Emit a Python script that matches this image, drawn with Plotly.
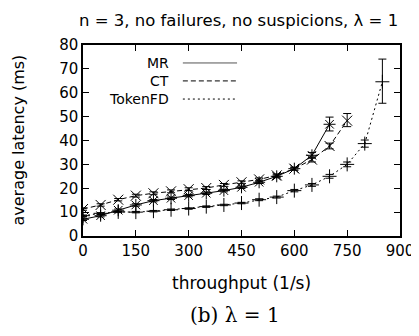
import plotly.graph_objects as go

# ---- data ----
mr_x = [0, 50, 100, 150, 200, 250, 300, 350, 400, 450, 500, 550, 600, 650, 700]
mr_y = [7.0, 8.5, 10.8, 13.0, 14.8, 15.8, 16.9, 17.9, 19.0, 20.4, 22.5, 25.0, 28.2, 33.8, 46.8]
mr_err_up = [0.5, 0.5, 0.5, 0.5, 0.5, 0.5, 0.5, 0.5, 0.5, 0.5, 0.5, 0.6, 0.6, 1.2, 3.0]
mr_err_dn = [0.5, 0.5, 0.5, 0.5, 0.5, 0.5, 0.5, 0.5, 0.5, 0.5, 0.5, 0.6, 0.6, 1.2, 2.8]

ct_x = [0, 50, 100, 150, 200, 250, 300, 350, 400, 450, 500, 550, 600, 650, 700, 750]
ct_y = [11.3, 13.0, 15.2, 16.9, 17.9, 18.7, 19.6, 20.1, 21.4, 22.5, 23.7, 25.4, 28.2, 32.0, 37.7, 48.3]
ct_err_up = [0.5, 0.5, 0.5, 0.6, 0.6, 0.6, 0.6, 0.6, 0.6, 0.6, 0.6, 0.6, 0.6, 1.0, 1.2, 3.0]
ct_err_dn = [0.5, 0.5, 0.5, 0.6, 0.6, 0.6, 0.6, 0.6, 0.6, 0.6, 0.6, 0.6, 0.6, 1.0, 1.2, 2.5]

tk_x = [0, 50, 100, 150, 200, 250, 300, 350, 400, 450, 500, 550, 600, 650, 700, 750, 800, 850]
tk_y = [8.5, 9.5, 10.1, 10.0, 10.4, 11.0, 11.5, 12.3, 13.0, 13.8, 15.2, 16.3, 19.0, 21.4, 25.0, 30.0, 38.7, 64.6]
tk_err_up = [0.3, 0.3, 0.3, 0.3, 0.3, 0.3, 0.3, 0.3, 0.3, 0.3, 0.4, 0.4, 0.5, 0.6, 0.8, 1.0, 1.5, 9.5]
tk_err_dn = [0.3, 0.3, 0.3, 0.3, 0.3, 0.3, 0.3, 0.3, 0.3, 0.3, 0.4, 0.4, 0.5, 0.6, 0.8, 1.0, 1.5, 9.0]

x_ticks = [0, 150, 300, 450, 600, 750, 900]
y_ticks = [0, 10, 20, 30, 40, 50, 60, 70, 80]

legend_names = ["MR", "CT", "TokenFD"]
legend_dashes = ["solid", "5px,3px", "2px,3px"]

title_text = "n = 3, no failures, no suspicions, \u03bb = 1"
x_title = "throughput (1/s)"
y_title = "average latency (ms)"
caption = "(b) \u03bb = 1"

FONT = "DejaVu Sans"
BLACK = "#000000"

fig = go.Figure()

series = [
    (mr_x, mr_y, mr_err_up, mr_err_dn, "solid", "asterisk-open"),
    (ct_x, ct_y, ct_err_up, ct_err_dn, "5px,3px", "x-thin-open"),
    (tk_x, tk_y, tk_err_up, tk_err_dn, "2px,3px", "cross-thin-open"),
]
for (xs, ys, eu, ed, dash, sym), name in zip(series, legend_names):
    fig.add_trace(go.Scatter(
        x=xs, y=ys, mode="lines+markers", name=name, showlegend=False,
        line=dict(color=BLACK, width=1, dash=dash),
        marker=dict(symbol=sym, size=10, color=BLACK, line=dict(color=BLACK, width=1)),
        error_y=dict(type="data", array=eu, arrayminus=ed, visible=True,
                     color=BLACK, thickness=1, width=4),
    ))

# gnuplot-style legend: right-aligned text, line sample to the right
leg_y = [0.906, 0.812, 0.717]
for name, dash, yy in zip(legend_names, legend_dashes, leg_y):
    fig.add_annotation(x=0.274, y=yy, xref="paper", yref="paper", text=name,
                       showarrow=False, xanchor="right", yanchor="middle",
                       borderpad=0,
                       font=dict(family=FONT, size=14, color=BLACK))
    fig.add_shape(type="line", xref="paper", yref="paper",
                  x0=0.315, x1=0.486, y0=yy, y1=yy,
                  line=dict(color="#555555" if dash == "solid" else BLACK, width=1, dash=dash))

fig.add_annotation(x=0.49, y=1.0, xref="paper", yref="paper", yshift=25,
                   text=title_text, showarrow=False, xanchor="center", yanchor="middle",
                   font=dict(family=FONT, size=16.5, color=BLACK))
fig.add_annotation(x=0.5, y=0, xref="paper", yref="paper", yshift=-47,
                   text=x_title, showarrow=False, xanchor="center", yanchor="middle",
                   font=dict(family=FONT, size=17, color=BLACK))
fig.add_annotation(x=0, y=0.5, xref="paper", yref="paper", xshift=-65,
                   text=y_title, showarrow=False, xanchor="center", yanchor="middle",
                   textangle=-90, borderpad=0, font=dict(family=FONT, size=16, color=BLACK))
fig.add_annotation(x=0.48, y=0, xref="paper", yref="paper", yshift=-79,
                   text=caption, showarrow=False, xanchor="center", yanchor="middle",
                   font=dict(family="DejaVu Serif", size=20, color=BLACK))

axis_common = dict(showline=True, linecolor=BLACK, linewidth=1.5, mirror="ticks",
                   ticks="inside", ticklen=6, tickcolor=BLACK, tickwidth=1,
                   showgrid=False, zeroline=False,
                   tickfont=dict(family=FONT, size=15, color=BLACK))

fig.update_xaxes(range=[0, 900], tickvals=x_ticks, ticktext=[str(v) for v in x_ticks],
                 **axis_common)
fig.update_yaxes(range=[0, 80], tickvals=y_ticks, ticktext=[str(v) for v in y_ticks],
                 **axis_common)

# page body adds an 8px offset; margins compensate so the plot box lands where the reference has it
fig.update_layout(width=419, height=336, margin=dict(l=75, r=27, t=37, b=108),
                  paper_bgcolor="white", plot_bgcolor="white",
                  font=dict(family=FONT, color=BLACK))

fig.write_html("out.html")
